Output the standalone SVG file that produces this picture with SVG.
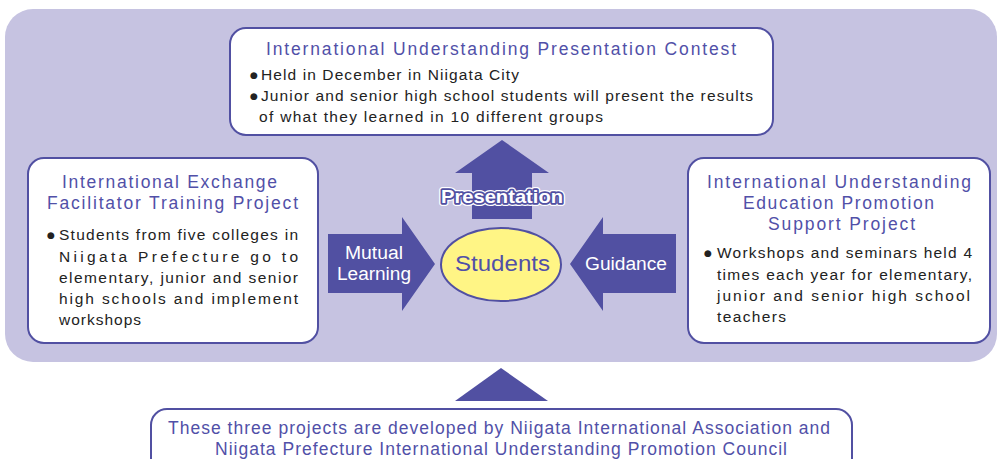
<svg xmlns="http://www.w3.org/2000/svg" width="997" height="459" viewBox="0 0 997 459">
<style>
.box{fill:#fff;stroke:#5150a2;stroke-width:2}
.arrow{fill:#5150a2}
.ttl{font-family:"Liberation Sans","Noto Sans",sans-serif;font-size:17.5px;fill:#5150a8}
.body{font-family:"Liberation Sans","Noto Sans",sans-serif;font-size:15.5px;fill:#222}
.bul{font-family:"DejaVu Sans",sans-serif;font-size:9px;fill:#222}
.lbl{font-family:"Liberation Sans","Noto Sans",sans-serif;font-size:18px;fill:#fff}
</style>
<rect x="5" y="9" width="992" height="353" rx="28" fill="#c6c3e1"/>

<g id="connectors">
<polygon id="arrow-presentation" class="arrow" points="502,140 549,173 532,173 532,219 472,219 472,173 455,173"/>
<polygon id="arrow-mutual" class="arrow" points="328,234 402,234 402,217 435,264 402,311 402,293 328,293"/>
<polygon id="arrow-guidance" class="arrow" points="570,264 603,217 603,234 676,234 676,293 603,293 603,311"/>
<polygon id="arrow-bottom" class="arrow" points="501,368 548,401 455,401"/>
<g class="lbl">
<text x="345" y="259" textLength="58" lengthAdjust="spacingAndGlyphs">Mutual</text>
<text x="337" y="280" textLength="74" lengthAdjust="spacingAndGlyphs">Learning</text>
<text x="585" y="270" textLength="82" lengthAdjust="spacingAndGlyphs">Guidance</text>
</g>
<g font-family="'Liberation Sans','Noto Sans',sans-serif" font-size="19px" font-weight="bold">
<text x="441" y="203" textLength="122" lengthAdjust="spacingAndGlyphs" fill="none" stroke="#fff" stroke-width="6" stroke-linejoin="round">Presentation</text>
<text x="441" y="203" textLength="122" lengthAdjust="spacingAndGlyphs" fill="none" stroke="#5150a2" stroke-width="3.5" stroke-linejoin="round">Presentation</text>
<text x="441" y="203" textLength="122" lengthAdjust="spacingAndGlyphs" fill="#fff">Presentation</text>
</g>
</g>

<g id="node-students">
<ellipse cx="501" cy="264.5" rx="60" ry="36.5" fill="#fff585" stroke="#5150a2" stroke-width="2"/>
<text x="455" y="271" textLength="95" lengthAdjust="spacingAndGlyphs" font-family="'Liberation Sans','Noto Sans',sans-serif" font-size="22px" fill="#5150a8">Students</text>
</g>

<g id="node-contest">
<rect class="box" x="230" y="28" width="543" height="107" rx="16"/>
<text class="ttl" x="266" y="55" textLength="470" lengthAdjust="spacing">International Understanding Presentation Contest</text>
<text class="bul" x="250" y="78">●</text>
<text class="body" x="261" y="80" textLength="258" lengthAdjust="spacing">Held in December in Niigata City</text>
<text class="bul" x="250" y="99">●</text>
<text class="body" x="261" y="101" textLength="492" lengthAdjust="spacing">Junior and senior high school students will present the results</text>
<text class="body" x="259" y="122" textLength="344" lengthAdjust="spacing">of what they learned in 10 different groups</text>
</g>

<g id="node-exchange">
<rect class="box" x="28" y="158" width="290" height="185" rx="16"/>
<text class="ttl" x="62" y="188" textLength="215" lengthAdjust="spacing">International Exchange</text>
<text class="ttl" x="47" y="209" textLength="251" lengthAdjust="spacing">Facilitator Training Project</text>
<text class="bul" x="47" y="238">●</text>
<text class="body" x="59" y="240" textLength="239" lengthAdjust="spacing">Students from five colleges in</text>
<text class="body" x="59" y="262" textLength="239" lengthAdjust="spacing">Niigata Prefecture go to</text>
<text class="body" x="59" y="283" textLength="239" lengthAdjust="spacing">elementary, junior and senior</text>
<text class="body" x="59" y="304" textLength="239" lengthAdjust="spacing">high schools and implement</text>
<text class="body" x="59" y="325" textLength="82" lengthAdjust="spacing">workshops</text>
</g>

<g id="node-support">
<rect class="box" x="688" y="158" width="302" height="185" rx="16"/>
<text class="ttl" x="707" y="188" textLength="264" lengthAdjust="spacing">International Understanding</text>
<text class="ttl" x="743" y="209" textLength="191" lengthAdjust="spacing">Education Promotion</text>
<text class="ttl" x="768" y="230" textLength="147" lengthAdjust="spacing">Support Project</text>
<text class="bul" x="704" y="256">●</text>
<text class="body" x="717" y="258" textLength="255" lengthAdjust="spacing">Workshops and seminars held 4</text>
<text class="body" x="717" y="280" textLength="255" lengthAdjust="spacing">times each year for elementary,</text>
<text class="body" x="717" y="301" textLength="253" lengthAdjust="spacing">junior and senior high school</text>
<text class="body" x="717" y="322" textLength="69" lengthAdjust="spacing">teachers</text>
</g>

<g id="node-bottom">
<rect class="box" x="151" y="409" width="701" height="80" rx="16"/>
<text class="ttl" x="168" y="434" font-size="16.5px" textLength="662" lengthAdjust="spacing">These three projects are developed by Niigata International Association and</text>
<text class="ttl" x="215" y="455" font-size="16.5px" textLength="572" lengthAdjust="spacing">Niigata Prefecture International Understanding Promotion Council</text>
</g>
</svg>
